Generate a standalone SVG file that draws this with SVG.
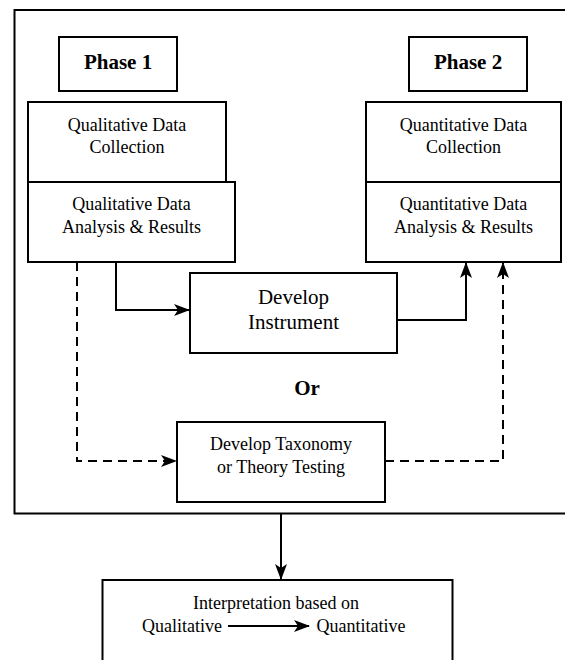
<svg xmlns="http://www.w3.org/2000/svg" width="565" height="660" viewBox="0 0 565 660">
<style>
.box{fill:#fff;stroke:#000;stroke-width:2}
.t{font-family:'Liberation Serif','Times New Roman',Times,'DejaVu Serif',serif;font-size:18px;fill:#000;text-anchor:middle}
.b{font-weight:bold;font-size:21px}
.big{font-size:21px}
.c{fill:none;stroke:#000;stroke-width:2}
.d{stroke-dasharray:9,6}
</style>
<defs>
<marker id="ah" markerWidth="16" markerHeight="12" refX="15" refY="6" orient="auto" markerUnits="userSpaceOnUse">
<path d="M0,0 L16,6 L0,12 L4,6 Z" fill="#000"/>
</marker>
</defs>
<rect x="14.5" y="10" width="560" height="503.5" fill="none" stroke="#000" stroke-width="2"/>
<g id="phase1"><rect class="box" x="59" y="37" width="118" height="54"/><text class="t b" x="118" y="69">Phase 1</text></g>
<g id="phase2"><rect class="box" x="409" y="37" width="118" height="54"/><text class="t b" x="468" y="69">Phase 2</text></g>
<g id="qualcol"><rect class="box" x="28" y="102" width="198" height="80"/><text class="t" x="127" y="131">Qualitative Data</text><text class="t" x="127" y="153">Collection</text></g>
<g id="qualan"><rect class="box" x="28" y="182" width="207" height="80"/><text class="t" x="131.5" y="210">Qualitative Data</text><text class="t" x="131.5" y="233">Analysis &amp; Results</text></g>
<g id="quantcol"><rect class="box" x="366" y="102" width="195" height="80"/><text class="t" x="463.5" y="131">Quantitative Data</text><text class="t" x="463.5" y="153">Collection</text></g>
<g id="quantan"><rect class="box" x="366" y="182" width="195" height="80"/><text class="t" x="463.5" y="210">Quantitative Data</text><text class="t" x="463.5" y="233">Analysis &amp; Results</text></g>
<g id="instrument"><rect class="box" x="190" y="273" width="207" height="80"/><text class="t big" x="293.5" y="304">Develop</text><text class="t big" x="293.5" y="329">Instrument</text></g>
<g id="or"><text class="t b" x="307" y="395">Or</text></g>
<g id="taxonomy"><rect class="box" x="177" y="422" width="208" height="80"/><text class="t" x="281" y="450">Develop Taxonomy</text><text class="t" x="281" y="473">or Theory Testing</text></g>
<g id="interp"><rect class="box" x="102.5" y="580" width="350" height="100"/><text class="t" x="276" y="609">Interpretation based on</text><text class="t" x="182" y="632">Qualitative</text><text class="t" x="361" y="632">Quantitative</text></g>
<g id="connectors">
<path class="c" d="M116,262 V310 H189" marker-end="url(#ah)"/>
<path class="c" d="M397,320 H466 V263" marker-end="url(#ah)"/>
<path class="c d" d="M77,262 V461 H176" marker-end="url(#ah)"/>
<path class="c d" d="M385,461 H503 V263" marker-end="url(#ah)"/>
<path class="c" d="M281,513.5 V579" marker-end="url(#ah)"/>
<path class="c" d="M228,626 H309" marker-end="url(#ah)"/>
</g>
</svg>
